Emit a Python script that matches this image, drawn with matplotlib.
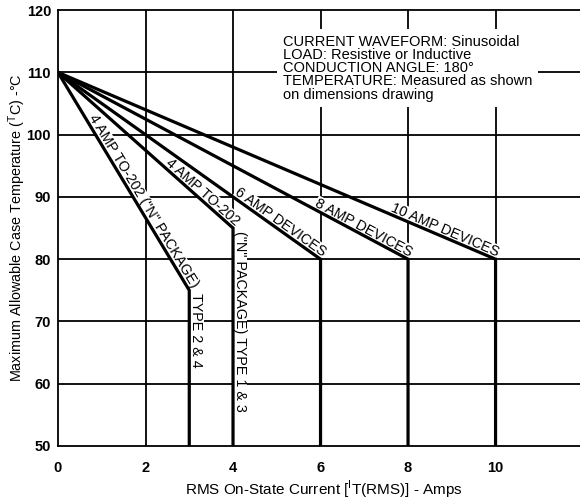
import numpy as np
import matplotlib
matplotlib.use("Agg")
import matplotlib.pyplot as plt

plt.rcParams['font.family'] = ['Liberation Sans', 'DejaVu Sans']
plt.rcParams['mathtext.fontset'] = 'custom'
plt.rcParams['mathtext.rm'] = 'Liberation Sans'

# derating curves: all start at 110 C, break at (amps, temp), then drop to 50
start_temp = 110
floor_temp = 50
kink_amps = [3, 4, 6, 8, 10]
kink_temp = [75, 85, 80, 80, 80]
slant_labels = ["4 AMP TO-202 (''N'' PACKAGE)", '4 AMP TO-202',
                '6 AMP DEVICES', '8 AMP DEVICES', '10 AMP DEVICES']
vert_labels = ['TYPE 2 & 4', "(''N'' PACKAGE) TYPE 1 & 3", '', '', '']

x_ticks = [0, 2, 4, 6, 8, 10]
y_ticks = [50, 60, 70, 80, 90, 100, 110, 120]

note = ("CURRENT WAVEFORM: Sinusoidal\n"
        "LOAD: Resistive or Inductive\n"
        "CONDUCTION ANGLE: 180\u00b0\n"
        "TEMPERATURE: Measured as shown\n"
        "on dimensions drawing")

fig = plt.figure(figsize=(5.8, 5.01), dpi=100)
ax = fig.add_axes([0.1, 0.1098, 0.9, 0.870])
ax.set_xlim(0, 11.93)
ax.set_ylim(50, 120)

# grid
for gx in x_ticks[1:]:
    ax.axvline(gx, color='black', lw=1.3, zorder=1)
for gy in y_ticks[1:-1]:
    ax.axhline(gy, color='black', lw=1.3, zorder=1)

for xk, yk, sl, vl in zip(kink_amps, kink_temp, slant_labels, vert_labels):
    ax.plot([0, xk, xk], [start_temp, yk, floor_temp], color='black', lw=2.3,
            solid_joinstyle='miter', zorder=3)
    ang = np.degrees(np.arctan2(yk - start_temp, xk))
    ax.text(xk, yk, sl, rotation=ang, transform_rotates_text=True,
            rotation_mode='anchor', ha='right', va='bottom', fontsize=10.3,
            zorder=2, bbox=dict(fc='white', ec='none', pad=0.3))
    if vl:
        ax.text(xk, yk - 0.5, vl, rotation=-90, rotation_mode='anchor',
                ha='left', va='bottom', fontsize=10.3, zorder=2,
                bbox=dict(fc='white', ec='none', pad=0.3))

ax.text(5.14, 116.0, note, ha='left', va='top', fontsize=10.5, linespacing=0.92,
        zorder=2, bbox=dict(fc='white', ec='none', pad=4))

for side in ['left', 'bottom', 'top']:
    ax.spines[side].set_linewidth(1.3)
ax.spines['right'].set_visible(False)

ax.set_xticks(x_ticks)
ax.set_yticks(y_ticks)
ax.tick_params(length=0)
ax.tick_params(axis='x', pad=11)
ax.tick_params(axis='y', pad=5)
for lab in ax.get_xticklabels() + ax.get_yticklabels():
    lab.set_fontweight('bold')
    lab.set_fontsize(10.5)

ax.set_xlabel(r"RMS On-State Current [$^{\mathrm{I}}$T(RMS)] - Amps", fontsize=11)
ax.xaxis.set_label_coords(0.51, -0.074)
ax.set_ylabel(r"Maximum Allowable Case Temperature ($^{\mathrm{T}}$C) -°C", fontsize=10.4)
ax.yaxis.set_label_coords(-0.058, 0.5)

fig.savefig('out.png', dpi=100)
